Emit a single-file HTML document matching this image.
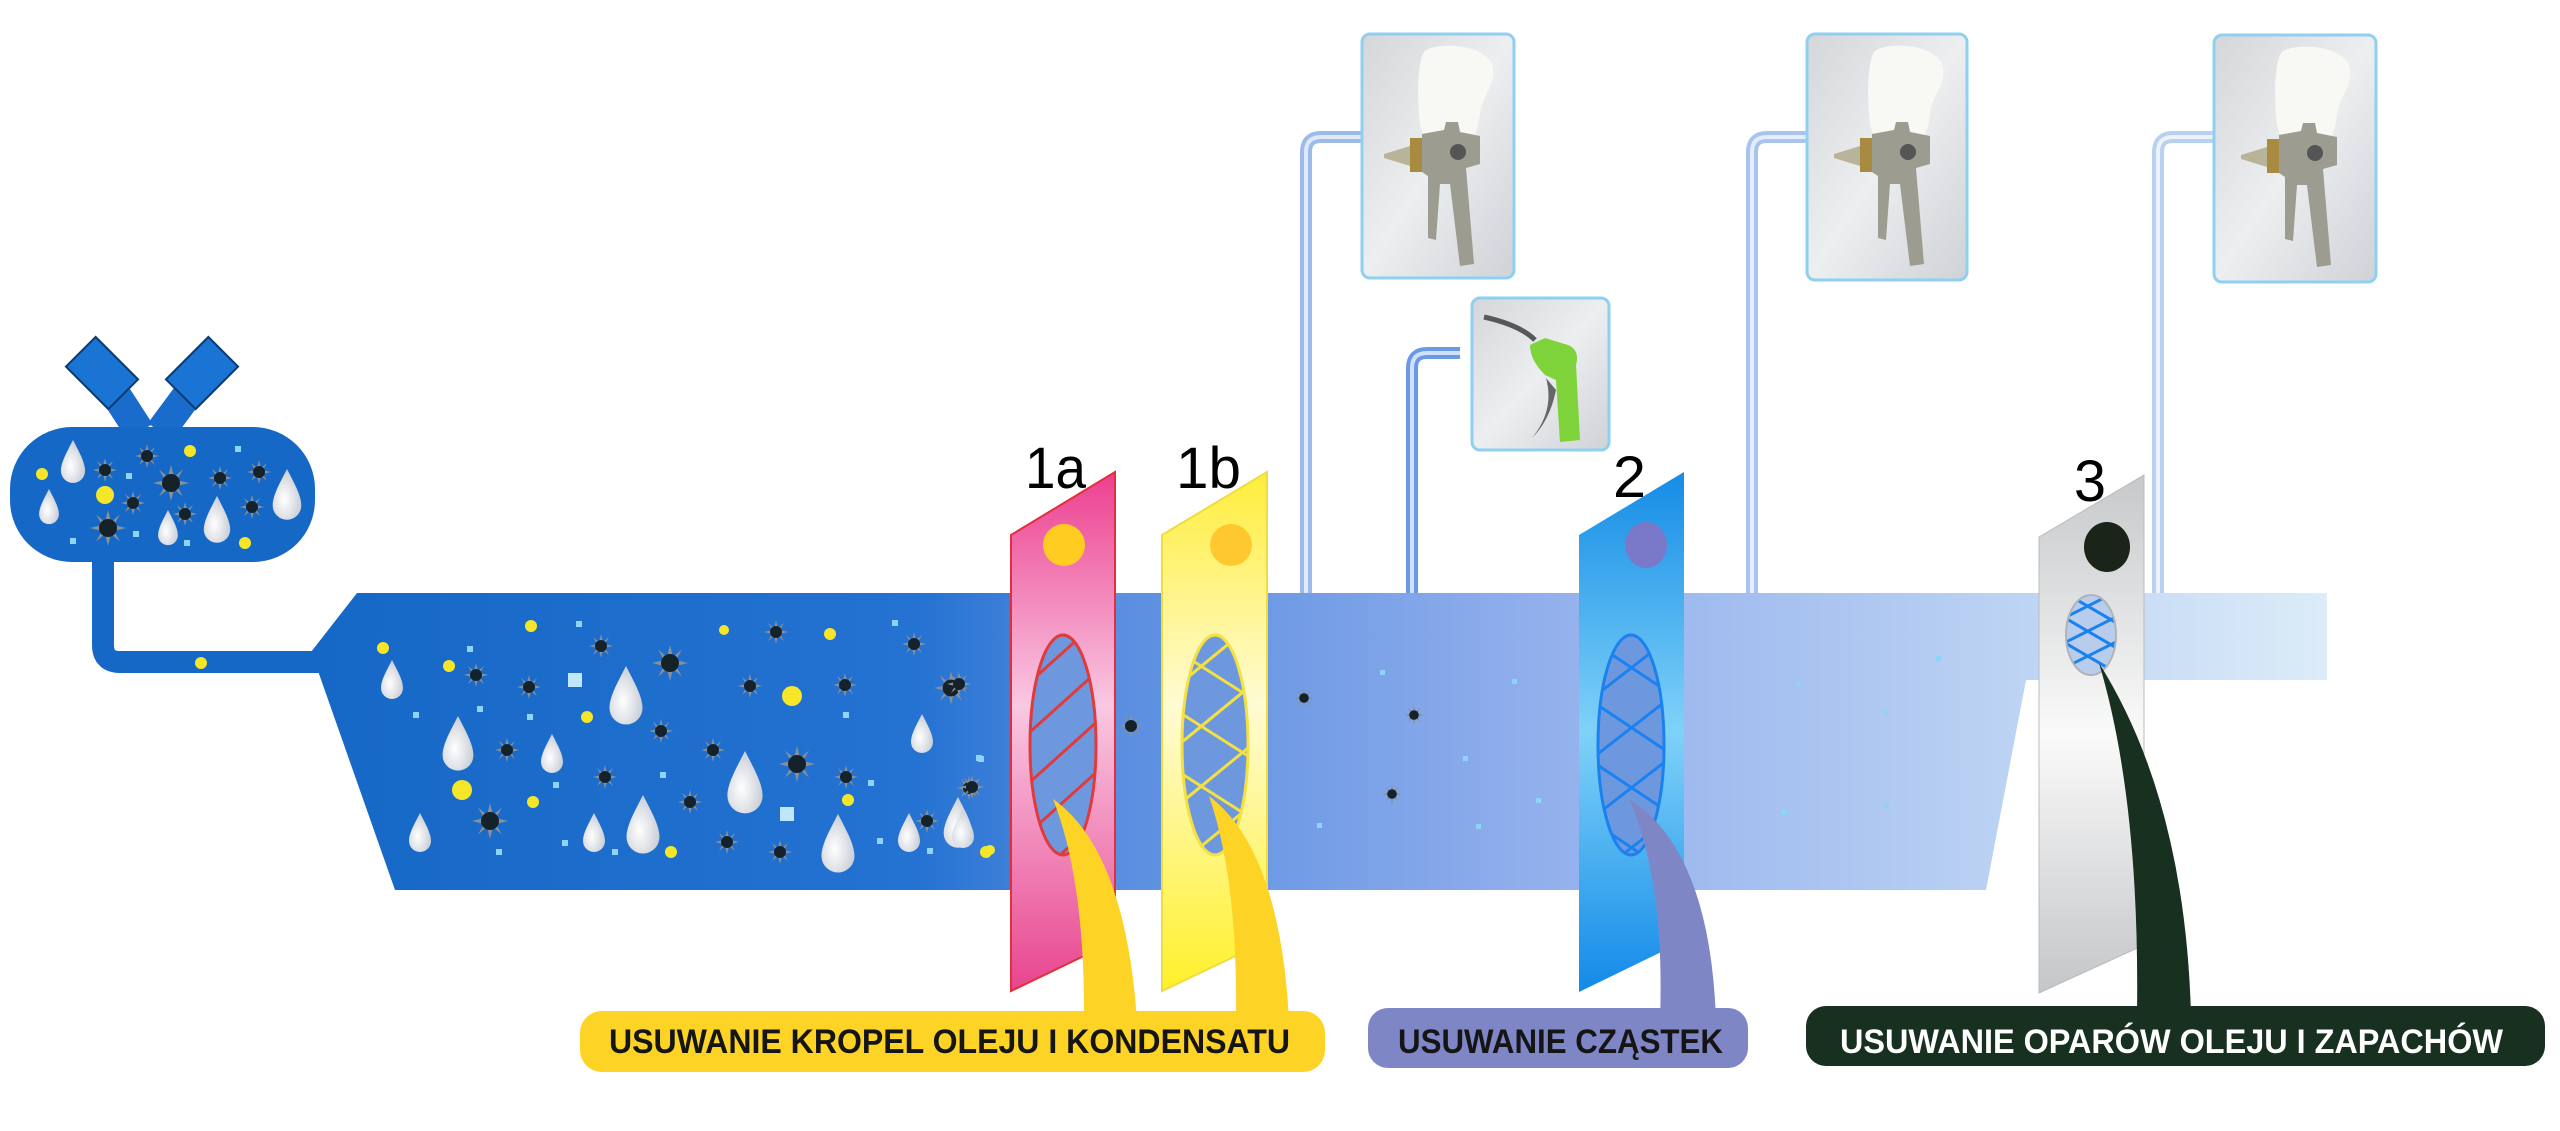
<!DOCTYPE html>
<html><head><meta charset="utf-8"><style>
html,body{margin:0;padding:0;background:#fff;width:2560px;height:1131px;overflow:hidden}
svg{display:block}
</style></head><body>
<svg width="2560" height="1131" viewBox="0 0 2560 1131" xmlns="http://www.w3.org/2000/svg">
<defs>
<linearGradient id="pipe" x1="311" y1="0" x2="2330" y2="0" gradientUnits="userSpaceOnUse">
<stop offset="0" stop-color="#1668c6"/><stop offset="0.3" stop-color="#2472d2"/><stop offset="0.4" stop-color="#5a8ee0"/><stop offset="0.6" stop-color="#90aeec"/><stop offset="0.8" stop-color="#b4ccf2"/><stop offset="1" stop-color="#dcecf8"/>
</linearGradient>
<linearGradient id="g1a" x1="0" y1="0" x2="0" y2="1"><stop offset="0" stop-color="#ec3f8f"/><stop offset="0.45" stop-color="#f9c8e2"/><stop offset="1" stop-color="#e8458e"/></linearGradient>
<linearGradient id="g1b" x1="0" y1="0" x2="0" y2="1"><stop offset="0" stop-color="#ffed3a"/><stop offset="0.45" stop-color="#fffbd4"/><stop offset="1" stop-color="#fff02a"/></linearGradient>
<linearGradient id="g2" x1="0" y1="0" x2="0" y2="1"><stop offset="0" stop-color="#158ce6"/><stop offset="0.5" stop-color="#7fd2f8"/><stop offset="1" stop-color="#128ae8"/></linearGradient>
<linearGradient id="g3" x1="0" y1="0" x2="0" y2="1"><stop offset="0" stop-color="#c6c8ca"/><stop offset="0.5" stop-color="#fafafa"/><stop offset="1" stop-color="#c4c6c8"/></linearGradient>
<linearGradient id="card" x1="0" y1="0" x2="1" y2="1"><stop offset="0" stop-color="#d4d6d9"/><stop offset="0.5" stop-color="#eceef0"/><stop offset="1" stop-color="#cfd2d6"/></linearGradient>
<radialGradient id="drop" cx="0.4" cy="0.6" r="0.6"><stop offset="0" stop-color="#ffffff"/><stop offset="1" stop-color="#c9ced6"/></radialGradient>
<g id="star"><path d="M0,-12 L2,-4 L8,-9 L4,-2 L12,0 L4,2 L8,9 L2,4 L0,12 L-2,4 L-8,9 L-4,2 L-12,0 L-4,-2 L-8,-9 L-2,-4Z" fill="#8a9098"/><circle r="6" fill="#16222a"/></g>
<path id="drop1" d="M0,-20 C5,-10 11,0 11,8 A11,11 0 0 1 -11,8 C-11,0 -5,-10 0,-20Z" fill="url(#drop)"/>
<clipPath id="c1a"><ellipse cx="1063" cy="745" rx="33" ry="110"/></clipPath>
<clipPath id="c1b"><ellipse cx="1215" cy="745" rx="33" ry="110"/></clipPath>
<clipPath id="c2"><ellipse cx="1631" cy="745" rx="33" ry="110"/></clipPath>
<clipPath id="c3"><ellipse cx="2091" cy="635" rx="25" ry="40"/></clipPath>
<g id="gun">
<path d="M62,18 C70,8 120,8 130,30 C136,50 120,60 118,80 C116,100 108,115 92,118 C75,120 62,110 58,90 C55,65 55,30 62,18Z" fill="#f8f8f4"/>
<path d="M22,120 L48,112 L48,132 L22,124Z" fill="#b8b49a"/>
<rect x="48" y="104" width="12" height="34" fill="#a88a40"/>
<path d="M60,100 L82,96 L84,88 L96,88 L98,98 L118,102 L118,130 L104,134 L112,230 L98,232 L88,150 L78,150 L74,206 L66,204 L66,142 L60,138Z" fill="#9c9c90"/>
<circle cx="96" cy="118" r="8" fill="#555"/>
</g>
</defs>

<!-- tank valves -->
<line x1="140" y1="432" x2="105" y2="378" stroke="#1a6ccc" stroke-width="30"/>
<line x1="160" y1="432" x2="200" y2="378" stroke="#1a6ccc" stroke-width="30"/>
<rect x="72" y="352" width="60" height="42" fill="#1a74d4" stroke="#0d3a70" stroke-width="2" transform="rotate(45 102 373)"/>
<rect x="172" y="352" width="60" height="42" fill="#1a74d4" stroke="#0d3a70" stroke-width="2" transform="rotate(-45 202 373)"/>
<!-- drain -->
<path d="M103,550 V645 Q103,662 120,662 H340" fill="none" stroke="#1668c6" stroke-width="22"/>
<!-- tank -->
<rect x="10" y="427" width="305" height="135" rx="62" fill="#1668c6"/>
<!-- main pipe -->
<path d="M357,593 H2327 V680 H2026 L1986,890 H395 L318,671 L311,652Z" fill="url(#pipe)"/>

<!-- vertical tool pipes -->
<g fill="none" stroke-linecap="butt">
<path d="M1306,593 V152 Q1306,137 1321,137 H1362" stroke="#9cbbea" stroke-width="12"/>
<path d="M1306,593 V152 Q1306,137 1321,137 H1362" stroke="#dfe9f8" stroke-width="4"/>
<path d="M1412,593 V368 Q1412,353 1427,353 H1460" stroke="#6a9ae6" stroke-width="12"/>
<path d="M1412,593 V368 Q1412,353 1427,353 H1460" stroke="#cfe0f8" stroke-width="4"/>
<path d="M1752,593 V152 Q1752,137 1767,137 H1807" stroke="#a8c4ee" stroke-width="12"/>
<path d="M1752,593 V152 Q1752,137 1767,137 H1807" stroke="#e4edf9" stroke-width="4"/>
<path d="M2158,593 V152 Q2158,137 2173,137 H2214" stroke="#b8d0f2" stroke-width="12"/>
<path d="M2158,593 V152 Q2158,137 2173,137 H2214" stroke="#eef3fb" stroke-width="4"/>
</g>
<!-- cards -->
<rect x="1362" y="34" width="152" height="244" rx="8" fill="url(#card)" stroke="#8fd0f0" stroke-width="3"/>
<use href="#gun" x="1362" y="34"/>
<rect x="1807" y="34" width="160" height="246" rx="8" fill="url(#card)" stroke="#8fd0f0" stroke-width="3"/>
<use href="#gun" x="1812" y="34"/>
<rect x="2214" y="35" width="162" height="247" rx="8" fill="url(#card)" stroke="#8fd0f0" stroke-width="3"/>
<use href="#gun" x="2219" y="35"/>
<rect x="1472" y="298" width="137" height="152" rx="8" fill="url(#card)" stroke="#8fd0f0" stroke-width="3"/>
<path d="M1484,317 Q1520,325 1535,340" fill="none" stroke="#555a58" stroke-width="5"/>
<path d="M1530,345 L1545,338 L1568,345 Q1580,350 1576,365 L1580,440 L1560,442 L1556,380 L1545,375 Q1530,360 1530,345Z" fill="#7ed23a"/>
<path d="M1546,378 Q1555,410 1532,438 Q1550,420 1556,390Z" fill="#666"/>

<!-- particles tank -->
<g>
<use href="#drop1" transform="translate(73,462) scale(1.1)"/><use href="#drop1" transform="translate(287,495) scale(1.3)"/><use href="#drop1" transform="translate(49,507) scale(0.9)"/><use href="#drop1" transform="translate(217,520) scale(1.2)"/><use href="#drop1" transform="translate(168,528) scale(0.9)"/>
<use href="#star" transform="translate(171,483) scale(1.5)"/><use href="#star" transform="translate(108,528) scale(1.5)"/><use href="#star" x="147" y="456"/><use href="#star" x="105" y="470"/><use href="#star" x="220" y="478"/><use href="#star" x="259" y="472"/><use href="#star" x="133" y="503"/><use href="#star" x="185" y="514"/><use href="#star" x="252" y="507"/>
<g fill="#f5e62a"><circle cx="105" cy="495" r="9"/><circle cx="42" cy="474" r="6"/><circle cx="190" cy="451" r="6"/><circle cx="245" cy="543" r="6"/><circle cx="201" cy="663" r="6"/>
<circle cx="531" cy="626" r="6"/><circle cx="383" cy="648" r="6"/><circle cx="449" cy="666" r="6"/><circle cx="587" cy="717" r="6"/><circle cx="724" cy="630" r="5"/><circle cx="830" cy="634" r="6"/><circle cx="792" cy="696" r="10"/><circle cx="462" cy="790" r="10"/><circle cx="533" cy="802" r="6"/><circle cx="671" cy="852" r="6"/><circle cx="848" cy="800" r="6"/><circle cx="986" cy="852" r="6"/><circle cx="990" cy="850" r="5"/></g>
<g fill="#8fd4f8"><rect x="235" y="446" width="6" height="6"/><rect x="126" y="473" width="6" height="6"/><rect x="70" y="538" width="6" height="6"/><rect x="133" y="531" width="6" height="6"/><rect x="184" y="540" width="6" height="6"/>
<rect x="576" y="621" width="6" height="6"/><rect x="568" y="673" width="14" height="14" fill="#bfe6fb"/><rect x="892" y="620" width="6" height="6"/><rect x="467" y="646" width="6" height="6"/><rect x="413" y="712" width="6" height="6"/><rect x="477" y="706" width="6" height="6"/><rect x="527" y="714" width="6" height="6"/><rect x="843" y="712" width="6" height="6"/><rect x="660" y="772" width="6" height="6"/><rect x="553" y="782" width="6" height="6"/><rect x="780" y="807" width="14" height="14" fill="#bfe6fb"/><rect x="976" y="755" width="6" height="6"/><rect x="868" y="780" width="6" height="6"/><rect x="562" y="840" width="6" height="6"/><rect x="612" y="849" width="6" height="6"/><rect x="496" y="849" width="6" height="6"/><rect x="877" y="838" width="6" height="6"/><rect x="927" y="848" width="6" height="6"/><rect x="978" y="756" width="6" height="6"/>
<rect x="1380" y="670" width="5" height="5"/><rect x="1512" y="679" width="5" height="5"/><rect x="1463" y="756" width="5" height="5"/><rect x="1536" y="798" width="5" height="5"/><rect x="1317" y="823" width="5" height="5"/><rect x="1476" y="824" width="5" height="5"/><rect x="1795" y="681" width="5" height="5"/><rect x="1936" y="656" width="5" height="5"/><rect x="1883" y="710" width="5" height="5"/><rect x="1782" y="810" width="5" height="5"/><rect x="1884" y="803" width="5" height="5"/></g>
<use href="#drop1" x="392" y="680"/><use href="#drop1" transform="translate(626,696) scale(1.5)"/><use href="#drop1" transform="translate(458,744) scale(1.4)"/><use href="#drop1" x="552" y="754"/><use href="#drop1" x="922" y="734"/><use href="#drop1" transform="translate(745,783) scale(1.6)"/><use href="#drop1" transform="translate(643,825) scale(1.5)"/><use href="#drop1" x="594" y="833"/><use href="#drop1" x="420" y="833"/><use href="#drop1" transform="translate(838,844) scale(1.5)"/><use href="#drop1" transform="translate(958,823) scale(1.3)"/><use href="#drop1" x="909" y="833"/><use href="#drop1" x="963" y="829"/>
<use href="#star" transform="translate(670,663) scale(1.5)"/><use href="#star" x="601" y="646"/><use href="#star" x="776" y="632"/><use href="#star" x="914" y="644"/><use href="#star" x="476" y="675"/><use href="#star" x="529" y="687"/><use href="#star" x="750" y="686"/><use href="#star" x="845" y="685"/><use href="#star" transform="translate(951,688) scale(1.4)"/><use href="#star" x="661" y="731"/><use href="#star" x="507" y="750"/><use href="#star" x="713" y="750"/><use href="#star" transform="translate(797,764) scale(1.5)"/><use href="#star" x="605" y="777"/><use href="#star" x="846" y="777"/><use href="#star" x="969" y="788"/><use href="#star" x="690" y="802"/><use href="#star" transform="translate(490,821) scale(1.5)"/><use href="#star" x="727" y="842"/><use href="#star" x="780" y="852"/><use href="#star" x="927" y="821"/>
<use href="#star" x="959" y="684"/><use href="#star" x="972" y="787"/><use href="#star" x="1131" y="726"/><use href="#star" transform="translate(1304,698) scale(0.8)"/><use href="#star" transform="translate(1414,715) scale(0.8)"/><use href="#star" transform="translate(1392,794) scale(0.8)"/>
</g>

<!-- filters -->
<path d="M1011,535 L1115,472 L1115,941 L1011,991Z" fill="url(#g1a)" stroke="#e0303c" stroke-width="2"/>
<circle cx="1064" cy="545" r="21" fill="#ffcc22"/>
<ellipse cx="1063" cy="745" rx="33" ry="110" fill="#6e98de"/>
<g clip-path="url(#c1a)" stroke="#e03a3a" stroke-width="3"><line x1="1010" y1="700" x2="1110" y2="610"/><line x1="1010" y1="750" x2="1110" y2="660"/><line x1="1010" y1="800" x2="1110" y2="710"/><line x1="1010" y1="850" x2="1110" y2="760"/><line x1="1010" y1="900" x2="1110" y2="810"/><line x1="1010" y1="950" x2="1110" y2="860"/></g>
<ellipse cx="1063" cy="745" rx="33" ry="110" fill="none" stroke="#e03a3a" stroke-width="3"/>

<path d="M1162,535 L1267,472 L1267,941 L1162,991Z" fill="url(#g1b)" stroke="#eedc40" stroke-width="2"/>
<circle cx="1231" cy="545" r="21" fill="#ffc830"/>
<ellipse cx="1215" cy="745" rx="33" ry="110" fill="#6e98de"/>
<g clip-path="url(#c1b)" stroke="#f4e040" stroke-width="3"><line x1="1160" y1="700" x2="1270" y2="610"/><line x1="1160" y1="760" x2="1270" y2="670"/><line x1="1160" y1="820" x2="1270" y2="730"/><line x1="1160" y1="880" x2="1270" y2="790"/><line x1="1160" y1="640" x2="1270" y2="710"/><line x1="1160" y1="700" x2="1270" y2="770"/><line x1="1160" y1="760" x2="1270" y2="830"/><line x1="1160" y1="580" x2="1270" y2="650"/></g>
<ellipse cx="1215" cy="745" rx="33" ry="110" fill="none" stroke="#f4e040" stroke-width="3"/>

<path d="M1579,535 L1684,472 L1684,941 L1579,992Z" fill="url(#g2)"/>
<ellipse cx="1646" cy="545" rx="21" ry="23" fill="#7a78c8"/>
<ellipse cx="1631" cy="745" rx="33" ry="110" fill="#6e98de"/>
<g clip-path="url(#c2)" stroke="#1a82f0" stroke-width="3"><line x1="1590" y1="700" x2="1680" y2="630"/><line x1="1590" y1="760" x2="1680" y2="690"/><line x1="1590" y1="820" x2="1680" y2="750"/><line x1="1590" y1="880" x2="1680" y2="810"/><line x1="1590" y1="640" x2="1680" y2="700"/><line x1="1590" y1="700" x2="1680" y2="760"/><line x1="1590" y1="760" x2="1680" y2="820"/><line x1="1590" y1="580" x2="1680" y2="640"/><line x1="1590" y1="820" x2="1680" y2="880"/></g>
<ellipse cx="1631" cy="745" rx="33" ry="110" fill="none" stroke="#1a82f0" stroke-width="3"/>

<path d="M2039,537 L2144,475 L2144,945 L2039,993Z" fill="url(#g3)" stroke="#b8bcc0" stroke-width="1"/>
<ellipse cx="2107" cy="547" rx="23" ry="25" fill="#1a2418"/>
<ellipse cx="2091" cy="635" rx="25" ry="40" fill="#b8ccec"/>
<g clip-path="url(#c3)" stroke="#1a82f0" stroke-width="3"><line x1="2060" y1="620" x2="2120" y2="590"/><line x1="2060" y1="645" x2="2120" y2="615"/><line x1="2060" y1="670" x2="2120" y2="640"/><line x1="2060" y1="695" x2="2120" y2="665"/><line x1="2060" y1="590" x2="2120" y2="625"/><line x1="2060" y1="615" x2="2120" y2="650"/><line x1="2060" y1="640" x2="2120" y2="675"/></g>
<ellipse cx="2091" cy="635" rx="25" ry="40" fill="none" stroke="#b0b4b8" stroke-width="2"/>

<!-- tails -->
<path d="M1053,799 Q1125,850 1137,1020 L1084,1020 Q1085,880 1053,799Z" fill="#fdd326"/>
<path d="M1209,796 Q1280,850 1289,1020 L1236,1020 Q1238,880 1209,796Z" fill="#fdd326"/>
<path d="M1629,799 Q1710,850 1716,1020 L1660,1020 Q1665,880 1629,799Z" fill="#7f86c6"/>
<path d="M2099,663 Q2185,800 2191,1015 L2137,1015 Q2140,800 2099,663Z" fill="#17301f"/>

<!-- labels -->
<rect x="580" y="1011" width="745" height="61" rx="22" fill="#fdd326"/>
<rect x="1368" y="1008" width="380" height="60" rx="20" fill="#7f86c6"/>
<rect x="1806" y="1006" width="739" height="60" rx="20" fill="#17301f"/>
<g font-family="'Liberation Sans', sans-serif" font-weight="bold" font-size="34">
<text x="609" y="1053" textLength="681" lengthAdjust="spacingAndGlyphs" fill="#151515">USUWANIE KROPEL OLEJU I KONDENSATU</text>
<text x="1398" y="1053" textLength="325" lengthAdjust="spacingAndGlyphs" fill="#151515">USUWANIE CZĄSTEK</text>
<text x="1840" y="1053" textLength="663" lengthAdjust="spacingAndGlyphs" fill="#ffffff">USUWANIE OPARÓW OLEJU I ZAPACHÓW</text>
</g>
<g font-family="'Liberation Sans', sans-serif" font-size="58" fill="#000">
<text x="1025" y="488" textLength="61" lengthAdjust="spacingAndGlyphs">1a</text>
<text x="1176" y="488" textLength="65" lengthAdjust="spacingAndGlyphs">1b</text>
<text x="1613" y="497" textLength="33" lengthAdjust="spacingAndGlyphs">2</text>
<text x="2074" y="501" textLength="32" lengthAdjust="spacingAndGlyphs">3</text>
</g>
</svg>
</body></html>
